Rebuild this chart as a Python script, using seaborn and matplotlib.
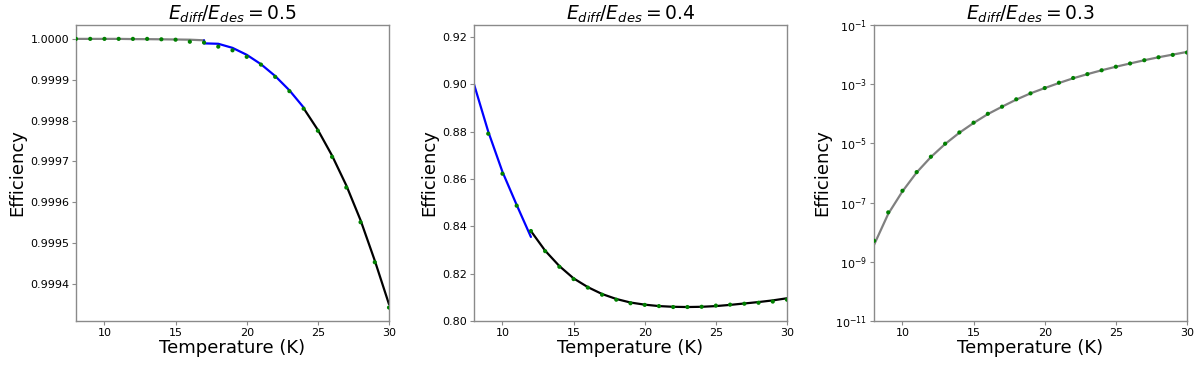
import numpy as np
import pandas as pd
import matplotlib
matplotlib.use("Agg")
import matplotlib.pyplot as plt
import matplotlib.ticker as mticker
import seaborn as sns

sns.set_style("ticks")
plt.rcParams['font.family'] = ['DejaVu Sans']
plt.rcParams['text.color'] = 'black'
plt.rcParams['axes.labelcolor'] = 'black'
plt.rcParams['xtick.labelcolor'] = 'black'
plt.rcParams['ytick.labelcolor'] = 'black'

# ---------------- data ----------------
temps = list(range(8, 31))

# Panel 1: E_diff/E_des = 0.5
p1_dots = [1.000000, 1.000000, 1.000000, 1.000000, 1.000000, 1.000000, 0.999999,
           0.999998, 0.999993, 0.999991, 0.999981, 0.999972, 0.999956, 0.999937,
           0.999907, 0.999872, 0.999829, 0.999775, 0.999711, 0.999636, 0.999551,
           0.999453, 0.999342]
p1_gray_T = [8, 9, 10, 11, 12, 13, 14, 15, 16, 17]
p1_gray = [1.000000, 1.000000, 1.000000, 1.000000, 0.9999995, 0.9999993, 0.999999,
           0.9999985, 0.999998, 0.9999965]
p1_blue_T = [17, 17, 18, 19, 20, 21, 22, 23, 24]
p1_blue = [0.9999965, 0.999989, 0.999988, 0.999978, 0.999961, 0.999938, 0.999909,
           0.999874, 0.999832]
p1_black_T = [24, 25, 26, 27, 28, 29, 30]
p1_black = [0.999830, 0.999777, 0.999714, 0.999641, 0.999556, 0.999457, 0.999350]

# Panel 2: E_diff/E_des = 0.4
p2_dots_T = list(range(9, 31))
p2_dots = [0.8791, 0.8622, 0.8487, 0.8380, 0.8295, 0.8229, 0.8177, 0.8141, 0.8111,
           0.8090, 0.8075, 0.8068, 0.8063, 0.8059, 0.8059, 0.8060, 0.8065, 0.8069,
           0.8073, 0.8077, 0.8082, 0.8090]
p2_blue_T = [8, 9, 10, 11, 12]
p2_blue = [0.9000, 0.8800, 0.8630, 0.8490, 0.8355]
p2_black_T = list(range(12, 31))
p2_black = [0.8380, 0.8297, 0.8232, 0.8180, 0.8143, 0.8114, 0.8093, 0.8078, 0.8069,
            0.8063, 0.8060, 0.8059, 0.8060, 0.8063, 0.8068, 0.8074, 0.8080, 0.8087,
            0.8096]

# Panel 3: E_diff/E_des = 0.3 (log10 of efficiency)
p3_dots_log = [-8.29, -7.33, -6.60, -5.97, -5.45, -5.01, -4.63, -4.30, -4.00, -3.76,
               -3.51, -3.31, -3.13, -2.95, -2.79, -2.66, -2.53, -2.41, -2.30, -2.19,
               -2.09, -2.01, -1.93]
p3_gray_log = [-8.43, -7.38, -6.62, -5.98, -5.46, -5.02, -4.64, -4.31, -4.01, -3.76,
               -3.52, -3.31, -3.13, -2.96, -2.80, -2.66, -2.53, -2.41, -2.30, -2.19,
               -2.09, -2.00, -1.91]

titles = [r"$E_{diff}/E_{des} = 0.5$", r"$E_{diff}/E_{des} = 0.4$", r"$E_{diff}/E_{des} = 0.3$"]

# ---------------- figure ----------------
fig = plt.figure(figsize=(12, 3.69), dpi=100)
lefts = [76 / 1200, 474 / 1200, 874 / 1200]
w = 313 / 1200
b = 1 - 321 / 369
h = 296 / 369
axes = [fig.add_axes([l, b, w, h]) for l in lefts]

spine_col = "#8a8a8a"
lw = 1.6
dot_kw = dict(color="green", s=9, edgecolor="none", zorder=3, legend=False)

def line(ax, x, y, color):
    sns.lineplot(x=x, y=y, ax=ax, color=color, linewidth=lw, estimator=None,
                 sort=False, legend=False)

# Panel 1
ax = axes[0]
line(ax, p1_gray_T, p1_gray, "gray")
line(ax, p1_blue_T, p1_blue, "blue")
line(ax, p1_black_T, p1_black, "black")
sns.scatterplot(x=temps, y=p1_dots, ax=ax, **dot_kw)
ax.set_ylim(0.999309, 1.000034)
ax.set_yticks([0.9994, 0.9995, 0.9996, 0.9997, 0.9998, 0.9999, 1.0000])
ax.yaxis.set_major_formatter(mticker.FormatStrFormatter('%.4f'))

# Panel 2
ax = axes[1]
line(ax, p2_blue_T, p2_blue, "blue")
line(ax, p2_black_T, p2_black, "black")
sns.scatterplot(x=p2_dots_T, y=p2_dots, ax=ax, **dot_kw)
ax.set_ylim(0.80, 0.925)
ax.set_yticks([0.80, 0.82, 0.84, 0.86, 0.88, 0.90, 0.92])
ax.yaxis.set_major_formatter(mticker.FormatStrFormatter('%.2f'))

# Panel 3
ax = axes[2]
line(ax, temps, [10 ** v for v in p3_gray_log], "gray")
sns.scatterplot(x=temps, y=[10 ** v for v in p3_dots_log], ax=ax, **dot_kw)
ax.set_yscale("log")
ax.set_ylim(1e-11, 1e-1)
ax.yaxis.set_major_locator(mticker.FixedLocator([1e-11, 1e-9, 1e-7, 1e-5, 1e-3, 1e-1]))
ax.yaxis.set_minor_locator(mticker.NullLocator())

for ax, t in zip(axes, titles):
    ax.set_xlim(8, 30)
    ax.set_xticks([10, 15, 20, 25, 30])
    ax.set_title(t, fontsize=13.5, pad=4, color="black")
    ax.set_xlabel("Temperature (K)", fontsize=13, labelpad=1)
    ax.set_ylabel("Efficiency", fontsize=13, labelpad=3)
    ax.tick_params(axis="both", labelsize=8, color=spine_col, length=3, width=0.8,
                   pad=2, labelcolor="black")
    for s in ax.spines.values():
        s.set_color(spine_col)
        s.set_linewidth(1.0)

fig.savefig("out.png", dpi=100)
